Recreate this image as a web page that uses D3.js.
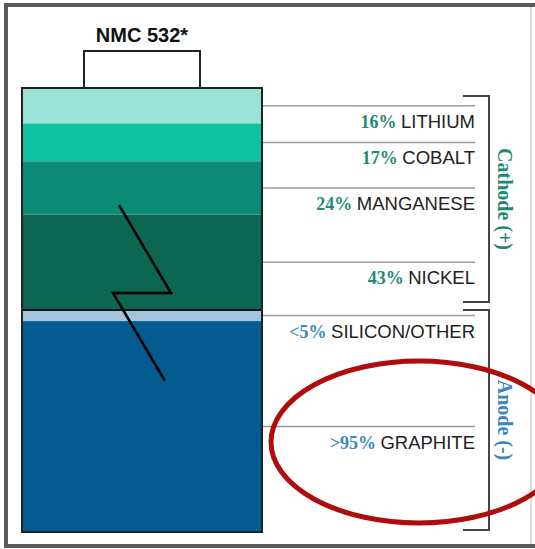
<!DOCTYPE html>
<html>
<head>
<meta charset="utf-8">
<script src="https://cdn.jsdelivr.net/npm/d3@7"></script>
<style>
  body { margin: 0; background: #fff; }
  svg { display: block; }
</style>
</head>
<body>
<div id="chart"></div>
<script>
// battery composition data
const cathodeNames = ["LITHIUM", "COBALT", "MANGANESE", "NICKEL"];
const cathodeValues = [16, 17, 24, 43];
const cathodeLabels = ["16%", "17%", "24%", "43%"];
const cathodeColors = ["#9ae3d5", "#0dc1a1", "#0b8a75", "#0c6651"];

const anodeNames = ["SILICON/OTHER", "GRAPHITE"];
const anodeValues = [5, 95];
const anodeLabels = ["<5%", ">95%"];
const anodeColors = ["#a5c3da", "#045b8f"];

const title = "NMC 532*";

const width = 535, height = 549;
const bodyX = 22, bodyW = 240;
const bodyTop = 88, bodyMid = 310, bodyBottom = 532;
const lineEnd = 475;

const svg = d3.select("#chart").append("svg")
  .attr("width", width)
  .attr("height", height);

// outer frame
svg.append("rect")
  .attr("x", 6).attr("y", 5).attr("width", 532).attr("height", 541)
  .attr("fill", "#fff").attr("stroke", "#5a5a5a").attr("stroke-width", 4);
svg.append("line")
  .attr("x1", 531).attr("x2", 531).attr("y1", 7).attr("y2", 544)
  .attr("stroke", "#cfcfcf").attr("stroke-width", 1.5);

// y scales for each half of the cell
const yCath = d3.scaleLinear().domain([0, 100]).range([bodyTop, bodyMid]);
const yAnode = d3.scaleLinear().domain([0, 100]).range([bodyMid, bodyBottom]);

function stack(values) {
  let acc = 0;
  return values.map(v => { const s = acc; acc += v; return [s, acc]; });
}

const cathode = stack(cathodeValues).map((s, i) => ({
  name: cathodeNames[i], label: cathodeLabels[i], color: cathodeColors[i],
  y0: yCath(s[0]), y1: yCath(s[1]), pctColor: "#238a74"
}));
const anode = stack(anodeValues).map((s, i) => ({
  name: anodeNames[i], label: anodeLabels[i], color: anodeColors[i],
  y0: yAnode(s[0]), y1: yAnode(s[1]), pctColor: "#3b89c1"
}));
const layers = cathode.concat(anode);

// terminal
svg.append("rect")
  .attr("x", 84).attr("y", 51).attr("width", 116).attr("height", 37)
  .attr("fill", "#fff").attr("stroke", "#222").attr("stroke-width", 2);

svg.append("text")
  .attr("x", 142).attr("y", 42)
  .attr("text-anchor", "middle")
  .attr("font-family", "Liberation Sans, Arial, sans-serif")
  .attr("font-weight", "bold")
  .attr("font-size", 20)
  .attr("fill", "#111")
  .text(title);

// layers
svg.selectAll("rect.layer")
  .data(layers)
  .enter()
  .append("rect")
  .attr("class", "layer")
  .attr("x", bodyX)
  .attr("y", d => d.y0)
  .attr("width", bodyW)
  .attr("height", d => d.y1 - d.y0)
  .attr("fill", d => d.color);

// cathode / anode divider
svg.append("line")
  .attr("x1", bodyX).attr("x2", bodyX + bodyW)
  .attr("y1", bodyMid).attr("y2", bodyMid)
  .attr("stroke", "#111").attr("stroke-width", 2);

// body outline
svg.append("rect")
  .attr("x", bodyX).attr("y", bodyTop).attr("width", bodyW).attr("height", bodyBottom - bodyTop)
  .attr("fill", "none").attr("stroke", "#222").attr("stroke-width", 2);

// lightning bolt
svg.append("polyline")
  .attr("points", [[119, 205], [171, 293], [113, 293], [165, 381]].join(" "))
  .attr("fill", "none").attr("stroke", "#000").attr("stroke-width", 2.5);

// leader lines
svg.selectAll("line.leader")
  .data(layers)
  .enter()
  .append("line")
  .attr("class", "leader")
  .attr("x1", bodyX + bodyW + 1).attr("x2", lineEnd)
  .attr("y1", d => (d.y0 + d.y1) / 2)
  .attr("y2", d => (d.y0 + d.y1) / 2)
  .attr("stroke", "#9a9a9a").attr("stroke-width", 1.5);

// labels
const labels = svg.selectAll("text.lab")
  .data(layers)
  .enter()
  .append("text")
  .attr("class", "lab")
  .attr("x", lineEnd)
  .attr("y", d => (d.y0 + d.y1) / 2 + 22)
  .attr("text-anchor", "end");
labels.append("tspan")
  .attr("font-family", "Liberation Serif, Times New Roman, serif")
  .attr("font-size", 18)
  .attr("font-weight", "bold")
  .attr("fill", d => d.pctColor)
  .text(d => d.label + " ");
labels.append("tspan")
  .attr("font-family", "Liberation Sans, Arial, sans-serif")
  .attr("font-size", 18.5)
  .attr("fill", "#222")
  .text(d => d.name);

// brackets
function bracket(y0, y1, label, color) {
  svg.append("polyline")
    .attr("points", [[463, y0], [489, y0], [489, y1], [463, y1]].join(" "))
    .attr("fill", "none").attr("stroke", "#444").attr("stroke-width", 2);
  svg.append("text")
    .attr("transform", "translate(505," + ((y0 + y1) / 2) + ") rotate(90)")
    .attr("text-anchor", "middle")
    .attr("dy", "0.35em")
    .attr("font-family", "Liberation Serif, Times New Roman, serif")
    .attr("font-weight", "bold")
    .attr("font-size", 20)
    .attr("fill", color)
    .text(label);
}
bracket(96, 302, "Cathode (+)", "#1f8a72");
bracket(310, 530, "Anode (-)", "#3a85bb");

// red highlight ellipse
svg.append("ellipse")
  .attr("cx", 419).attr("cy", 442)
  .attr("rx", 148).attr("ry", 81)
  .attr("fill", "none").attr("stroke", "#b00c0c").attr("stroke-width", 5);
</script>
</body>
</html>
